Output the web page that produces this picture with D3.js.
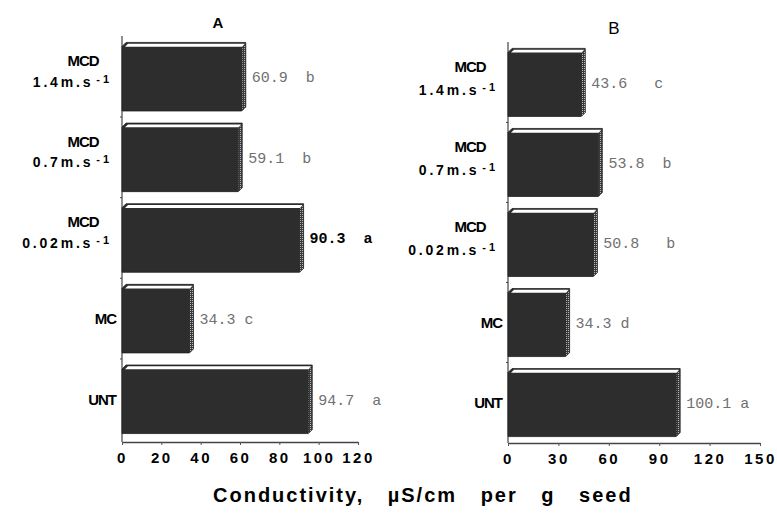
<!DOCTYPE html>
<html>
<head>
<meta charset="utf-8">
<script src="https://cdn.jsdelivr.net/npm/d3@7"></script>
<style>
  body { margin: 0; background: #fff; }
  svg { display: block; }
  text { font-family: "Liberation Sans", Arial, sans-serif; }
</style>
</head>
<body>
<svg width="777" height="517"></svg>
<script>
// treatments, top to bottom
var treatments = ["MCD 1.4", "MCD 0.7", "MCD 0.02", "MC", "UNT"];
var speedLabels = ["1.4m.s", "0.7m.s", "0.02m.s", null, null];

// panel A
var valuesA = [60.9, 59.1, 90.3, 34.3, 94.7];
var lettersA = ["b", "b", "a", "c", "a"];
var valueTextA = ["60.9  b", "59.1  b", "90.3  a", "34.3 c", "94.7  a"];
var ticksA = [0, 20, 40, 60, 80, 100, 120];

// panel B
var valuesB = [43.6, 53.8, 50.8, 34.3, 100.1];
var lettersB = ["c", "b", "b", "d", "a"];
var valueTextB = ["43.6   c", "53.8  b", "50.8   b", "34.3 d", "100.1 a"];
var ticksB = [0, 30, 60, 90, 120, 150];

var svg = d3.select("svg");

var defs = svg.append("defs");
var pat = defs.append("pattern")
    .attr("id", "stipple")
    .attr("width", 2).attr("height", 2)
    .attr("patternUnits", "userSpaceOnUse");
pat.append("rect").attr("width", 2).attr("height", 2).attr("fill", "#3a3a3a");
pat.append("rect").attr("width", 1).attr("height", 1).attr("fill", "#b8b8b8");

var depth = 4;

function panel(opt) {
  var x = d3.scaleLinear().domain([0, opt.max]).range(opt.xr);
  var y = d3.scaleBand().domain(treatments).range(opt.yr)
      .paddingInner(0.15).paddingOuter(0.08);
  var g = svg.append("g");

  // vertical axis line with small ticks between bars
  g.append("line")
      .attr("x1", x(0)).attr("x2", x(0))
      .attr("y1", opt.yr[0]).attr("y2", opt.axisY)
      .attr("stroke", "#444").attr("stroke-width", 1.2);
  g.selectAll(".vt").data(treatments.slice(1)).enter().append("line")
      .attr("x1", x(0) - 2).attr("x2", x(0))
      .attr("y1", function(d) { return y(d) - y.step() * 0.075; })
      .attr("y2", function(d) { return y(d) - y.step() * 0.075; })
      .attr("stroke", "#444");

  // bottom axis
  var axis = g.append("g")
      .attr("transform", "translate(0," + opt.axisY + ")")
      .call(d3.axisBottom(x).tickValues(opt.ticks).tickSize(3).tickSizeOuter(0));
  axis.select(".domain").attr("stroke", "#444").attr("stroke-width", 1.3);
  axis.selectAll(".tick line").attr("stroke", "#555");
  axis.selectAll(".tick text")
      .attr("y", 10)
      .attr("fill", "#000")
      .style("font-size", "15px")
      .style("font-weight", "bold")
      .style("letter-spacing", "2.5px")
      .style("font-family", "'Liberation Sans', Arial, sans-serif");

  // 3d bars
  var bars = g.selectAll(".bar").data(opt.values).enter().append("g");
  bars.append("path")
      .attr("fill", "#2d2d2d")
      .attr("stroke", "#222")
      .attr("stroke-width", 0.8)
      .attr("d", function(d, i) {
        var x0 = x(0), x1 = x(d), y0 = y(treatments[i]), h = y.bandwidth();
        return "M" + x0 + "," + (y0 + depth) +
               "L" + (x0 + depth) + "," + y0 +
               "L" + (x1 + depth) + "," + y0 +
               "L" + (x1 + depth) + "," + (y0 + h - depth) +
               "L" + x1 + "," + (y0 + h) +
               "L" + x0 + "," + (y0 + h) + "Z";
      });
  bars.append("path")
      .attr("fill", "url(#stipple)")
      .attr("d", function(d, i) {
        var x1 = x(d), y0 = y(treatments[i]), h = y.bandwidth();
        return "M" + (x1 + 0.5) + "," + (y0 + depth + 1) +
               "L" + (x1 + depth) + "," + (y0 + 1.5) +
               "L" + (x1 + depth) + "," + (y0 + h - depth) +
               "L" + (x1 + 0.5) + "," + (y0 + h - 0.5) + "Z";
      });
  bars.append("path")
      .attr("fill", "#fff")
      .attr("d", function(d, i) {
        var x0 = x(0), x1 = x(d), y0 = y(treatments[i]);
        return "M" + (x0 + 3) + "," + (y0 + depth + 0.2) +
               "L" + (x0 + depth + 2) + "," + (y0 + 1.3) +
               "L" + (x1 + depth - 1) + "," + (y0 + 1.3) +
               "L" + (x1 + 0.5) + "," + (y0 + depth + 0.2) + "Z";
      });

  // value labels
  g.selectAll(".val").data(opt.values).enter().append("text")
      .attr("x", function(d) { return x(d) + depth + 6; })
      .attr("y", function(d, i) { return y(treatments[i]) + y.bandwidth() / 2; })
      .attr("dy", "0.35em")
      .attr("xml:space", "preserve")
      .style("white-space", "pre")
      .style("font-family", "'Liberation Mono', 'DejaVu Sans Mono', monospace")
      .style("font-size", "15px")
      .style("font-weight", function(d, i) { return opt.bold[i] ? "bold" : "normal"; })
      .attr("fill", function(d, i) { return opt.bold[i] ? "#000" : "#707070"; })
      .text(function(d, i) { return opt.text[i]; });

  // category labels
  treatments.forEach(function(t, i) {
    var cy = y(t) + y.bandwidth() / 2;
    if (speedLabels[i]) {
      g.append("text")
          .attr("x", opt.mcdX).attr("y", cy - 16)
          .attr("dy", "0.35em")
          .attr("text-anchor", "middle")
          .style("font-size", "15px").style("font-weight", "bold")
          .style("letter-spacing", "-1px")
          .text("MCD");
      var s = g.append("text")
          .attr("x", x(0) - 10).attr("y", cy + opt.speedDy)
          .attr("dy", "0.35em")
          .attr("text-anchor", "end")
          .style("font-size", "14px").style("font-weight", "bold")
          .style("letter-spacing", "2.8px");
      s.append("tspan").text(speedLabels[i]);
      s.append("tspan").attr("dx", 3).attr("dy", -4)
          .style("font-size", "11px").style("letter-spacing", "3px")
          .text("-1");
    } else {
      g.append("text")
          .attr("x", x(0) - 6).attr("y", cy)
          .attr("dy", "0.35em")
          .attr("text-anchor", "end")
          .style("font-size", "15px").style("font-weight", "bold")
          .style("letter-spacing", "-1px")
          .text(t);
    }
  });

  // panel letter
  g.append("text")
      .attr("x", opt.titleX).attr("y", opt.titleY)
      .attr("text-anchor", "middle")
      .style("font-size", opt.titleSize).style("font-weight", opt.titleWeight)
      .text(opt.title);
}

panel({
  values: valuesA, text: valueTextA, ticks: ticksA, max: 120,
  bold: lettersA.map(function(l, i) { return i === 2; }),
  xr: [122, 358], yr: [36, 440], axisY: 442,
  mcdX: 83, speedDy: 5,
  title: "A", titleX: 218, titleY: 28, titleSize: "15px", titleWeight: "bold"
});

panel({
  values: valuesB, text: valueTextB, ticks: ticksB, max: 150,
  bold: lettersB.map(function() { return false; }),
  xr: [508, 760], yr: [42, 443], axisY: 443,
  mcdX: 470, speedDy: 8,
  title: "B", titleX: 614, titleY: 34, titleSize: "17px", titleWeight: "normal"
});

// shared x-axis title
svg.append("text")
    .attr("x", 213).attr("y", 502)
    .style("font-size", "20px").style("font-weight", "bold")
    .style("letter-spacing", "2px").style("word-spacing", "16px")
    .text("Conductivity, \u00b5S/cm per g seed");
</script>
</body>
</html>
